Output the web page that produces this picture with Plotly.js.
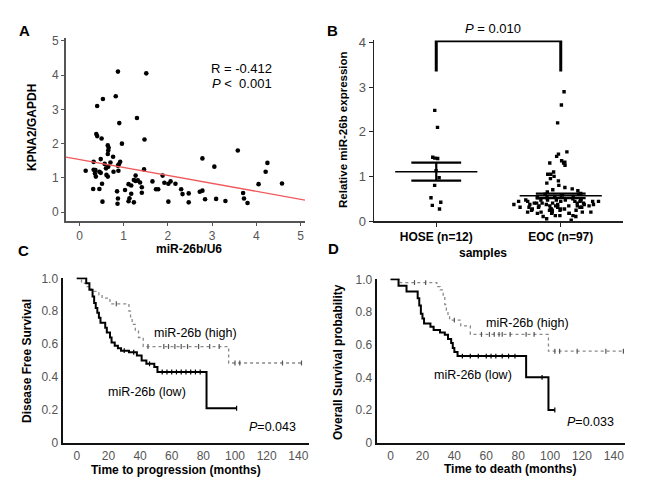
<!DOCTYPE html>
<html><head><meta charset="utf-8">
<script src="https://cdn.plot.ly/plotly-3.0.1.min.js"></script>
<style>html,body{margin:0;padding:0;background:#fff}#chart{width:650px;height:483px}</style>
</head><body><div id="chart"></div>
<script>
// ---------- Panel A: scatter ----------
const mir26bU6 = [0.87,1.51,0.82,0.53,0.40,1.30,0.90,0.38,0.40,0.50,1.47,0.96,0.64,0.66,0.65,0.64,0.76,0.48,2.78,3.58,0.32,0.70,0.92,0.89,0.87,0.57,0.65,0.60,4.25,3.05,1.46,0.14,0.32,0.36,0.45,0.48,0.35,0.77,0.88,0.37,0.61,0.64,1.27,1.88,4.21,1.32,1.27,1.23,1.65,2.06,1.92,2.01,2.17,4.05,4.58,0.51,1.11,1.17,1.37,1.41,0.31,0.45,1.03,0.85,1.78,1.73,2.30,2.33,2.47,1.17,1.41,2.72,2.78,3.70,3.72,0.87,1.13,2.84,3.09,3.30,3.80,0.52,0.86,1.11,1.23,2.01,2.47];
const kpna2Gapdh = [4.1,4.05,3.38,3.3,3.1,2.75,2.6,2.28,2.22,2.15,2.12,2.0,1.95,1.88,1.8,1.7,1.62,1.55,1.57,1.8,1.47,1.45,1.47,1.4,1.36,1.41,1.33,1.28,1.44,1.33,1.25,1.21,1.24,1.23,1.18,1.15,1.13,1.18,1.21,1.04,1.09,1.04,1.07,1.07,1.18,0.93,0.91,0.94,0.9,0.9,0.86,0.83,0.83,0.82,0.84,0.83,0.82,0.78,0.87,0.73,0.68,0.68,0.65,0.61,0.67,0.67,0.67,0.53,0.55,0.54,0.57,0.6,0.63,0.56,0.4,0.4,0.41,0.38,0.39,0.33,0.27,0.31,0.25,0.32,0.29,0.31,0.29];
const fitIntercept = 1.54;
const fitSlope = -0.232;
const fitXRange = [-0.305, 5.1];

// ---------- Panel B: dot plot ----------
const groupLabels = ['HOSE (n=12)', 'EOC (n=97)'];
const hoseValues = [2.48,2.1,1.43,1.41,1.40,1.13,0.97,0.8,0.52,0.42,0.35,0.27];
const eocValues = [2.9,2.6,2.2,1.55,1.5,1.45,1.35,1.32,1.3,1.3,1.25,1.1,1.05,1.05,1.0,0.95,0.9,0.85,0.8,0.75,0.72,0.7,0.68,0.65,0.62,0.6,0.6,0.58,0.55,0.55,0.52,0.52,0.5,0.5,0.47,0.47,0.47,0.47,0.47,0.47,0.44,0.44,0.44,0.44,0.44,0.44,0.44,0.4,0.4,0.4,0.4,0.4,0.4,0.37,0.37,0.37,0.37,0.37,0.37,0.34,0.34,0.34,0.34,0.34,0.34,0.31,0.31,0.31,0.31,0.31,0.31,0.27,0.27,0.27,0.27,0.27,0.24,0.24,0.24,0.24,0.24,0.2,0.2,0.2,0.2,0.2,0.17,0.17,0.17,0.17,0.12,0.12,0.12,0.1,0.1,0.05,0.02];
const bracketTop = 4.04;
const bracketFoot = 3.35;

// ---------- Panel C: disease free survival ----------
const dfsLowTime = [0,6,8,10,11,12,13,14,15,18,19,21,22,24,26,28,33,38,41,44,49,51,82];
const dfsLowSurv = [1,0.97,0.93,0.89,0.85,0.82,0.79,0.76,0.73,0.70,0.67,0.64,0.61,0.59,0.575,0.56,0.55,0.53,0.50,0.48,0.46,0.43,0.21];
const dfsLowEnd = 101;
const dfsLowCensor = [30,36,46,54,57,60,63,66,69,72,75,78,101];
const dfsHighTime = [0,3,6,9,14,16,21,33,34,35,37,39,42,96];
const dfsHighSurv = [1,0.97,0.95,0.92,0.90,0.88,0.845,0.80,0.76,0.72,0.68,0.64,0.585,0.485];
const dfsHighEnd = 142;
const dfsHighCensor = [25,45,55,58,62,66,70,77,84,90,100,103,130,142];

// ---------- Panel D: overall survival ----------
const osLowTime = [0,5,10,17,18,19,20,21,25,27,31,34,36,38,39,40,42,85,99];
const osLowSurv = [1,0.96,0.925,0.884,0.84,0.79,0.76,0.73,0.71,0.69,0.675,0.66,0.635,0.61,0.58,0.555,0.53,0.40,0.20];
const osLowEnd = 103;
const osLowCensor = [45,50,55,60,63,66,70,74,78,95,103];
const osHighTime = [0,6,29,31,33,34,35,36,37,44,50,99];
const osHighSurv = [1,0.98,0.955,0.935,0.895,0.845,0.81,0.78,0.75,0.715,0.663,0.56];
const osHighEnd = 146;
const osHighCensor = [15,22,40,57,62,65,68,70,75,85,90,103,106,117,135,146];

const survTicks = [0,0.2,0.4,0.6,0.8,1.0];
const survTickText = ['0','0.2','0.4','0.6','0.8','1.0'];
const monthTicks = [0,20,40,60,80,100,120,140];

// ---------- helpers ----------
const W = 650, H = 483;
const px = x => x / W;
const py = y => 1 - y / H;
const FONT = 'Liberation Sans, Arial, sans-serif';

function mean(a){ return a.reduce((s,v)=>s+v,0)/a.length; }
function sem(a){ const m=mean(a); const v=a.reduce((s,x)=>s+(x-m)*(x-m),0)/(a.length-1); return Math.sqrt(v/a.length); }
function survAt(times, surv, t){ let s = surv[0]; for (let i=0;i<times.length;i++){ if (times[i] <= t) s = surv[i]; } return s; }

function kmTraces(times, surv, end, censor, xa, ya, style){
  const xs = times.concat([end]);
  const ys = surv.concat([surv[surv.length-1]]);
  return [
    {type:'scatter', mode:'lines', x: xs, y: ys, xaxis: xa, yaxis: ya,
     line: Object.assign({shape:'hv'}, style), hoverinfo:'skip', cliponaxis:false},
    {type:'scatter', mode:'markers', x: censor, y: censor.map(t=>survAt(times,surv,t)), xaxis: xa, yaxis: ya,
     marker:{symbol:'line-ns-open', size:3.5, color: style.markColor, line:{width:1.2, color: style.markColor}}, hoverinfo:'skip', cliponaxis:false}
  ];
}

const traces = [];
// A
traces.push({type:'scatter', mode:'markers', x: mir26bU6, y: kpna2Gapdh, xaxis:'x', yaxis:'y',
  marker:{color:'#000', size:4.6}, hoverinfo:'skip'});
traces.push({type:'scatter', mode:'lines', x: fitXRange, y: fitXRange.map(v=>fitIntercept+fitSlope*v), xaxis:'x', yaxis:'y',
  line:{color:'#f0585a', width:1.3}, hoverinfo:'skip'});

// B
const groups = [hoseValues, eocValues];
const boxWidths = [0.3, 0.85];
const jitters = [0.35, 0.9];
groups.forEach((vals, i) => {
  traces.push({type:'box', y: vals, x0: i, xaxis:'x2', yaxis:'y2', boxpoints:'all', pointpos:0, jitter: jitters[i],
    width: boxWidths[i], fillcolor:'rgba(0,0,0,0)', line:{color:'rgba(0,0,0,0)', width:0}, whiskerwidth:0,
    marker:{symbol:'square', size:3.4, color:'#000'}, hoverinfo:'skip', showlegend:false});
  const m = mean(vals), s = sem(vals);
  traces.push({type:'scatter', mode:'lines', x:[i-0.33, i+0.33], y:[m,m], xaxis:'x2', yaxis:'y2',
    line:{color:'#000', width:1.5}, hoverinfo:'skip'});
  traces.push({type:'scatter', mode:'lines', x:[i-0.2, i+0.2, null, i-0.2, i+0.2, null, i, i], y:[m+s,m+s,null,m-s,m-s,null,m-s,m+s],
    xaxis:'x2', yaxis:'y2', line:{color:'#000', width:2.2}, hoverinfo:'skip'});
});
traces.push({type:'scatter', mode:'lines', x:[0,0,1,1], y:[bracketFoot,bracketTop,bracketTop,bracketFoot], xaxis:'x2', yaxis:'y2',
  line:{color:'#000', width:3}, hoverinfo:'skip', cliponaxis:false});

// C
const lowStyle = {color:'#000', width:2, markColor:'#000'};
const highStyle = {color:'#8a8a8a', width:1.3, dash:'dot', markColor:'#555'};
function lineOnly(s){ const o = Object.assign({}, s); delete o.markColor; return o; }
function km(t,s,e,c,xa,ya,st){ const tr = kmTraces(t,s,e,c,xa,ya,st); tr[0].line = Object.assign({shape:'hv'}, lineOnly(st)); return tr; }
traces.push(...km(dfsHighTime, dfsHighSurv, dfsHighEnd, dfsHighCensor, 'x3', 'y3', highStyle));
traces.push(...km(dfsLowTime, dfsLowSurv, dfsLowEnd, dfsLowCensor, 'x3', 'y3', lowStyle));
// D
traces.push(...km(osHighTime, osHighSurv, osHighEnd, osHighCensor, 'x4', 'y4', highStyle));
traces.push(...km(osLowTime, osLowSurv, osLowEnd, osLowCensor, 'x4', 'y4', lowStyle));

const tickFont = {family: FONT, size: 12, color:'#555'};
function ax(extra){ return Object.assign({showgrid:false, zeroline:false, showline:true, fixedrange:true, tickfont: tickFont}, extra); }

const ann = [];
function txt(text, x, y, size, opts){ ann.push(Object.assign({text, x: px(x), y: py(y), xref:'paper', yref:'paper', showarrow:false,
  xanchor:'center', yanchor:'middle', font:{family:FONT, size, color:'#000'}}, opts||{})); }
function bold(s){ return '<b>'+s+'</b>'; }

// panel letters
txt(bold('A'), 24, 30, 15); txt(bold('B'), 332, 30, 15); txt(bold('C'), 23, 250, 15); txt(bold('D'), 333, 248, 15);
// A
txt('R = -0.412', 242, 69, 13); txt('<i>P</i> <  0.001', 242, 83, 13);
txt(bold('KPNA2/GAPDH'), 32, 128, 12, {textangle:-90});
txt(bold('miR-26b/U6'), 189, 249, 12);
// B
txt('<i>P</i> = 0.010', 493, 28, 13);
txt(bold('Relative miR-26b expression'), 343, 130, 11.5, {textangle:-90});
txt(bold('samples'), 483, 253, 12);
// C
txt('miR-26b (high)', 195, 333, 12.5); txt('miR-26b (low)', 147, 392, 12.5); txt('<i>P</i>=0.043', 272, 427, 12.5);
txt(bold('Disease Free Survival'), 27, 361, 12, {textangle:-90});
txt(bold('Time to progression (months)'), 176, 470, 12);
// D
txt('miR-26b (high)', 527, 323, 12.5); txt('miR-26b (low)', 473, 375, 12.5); txt('<i>P</i>=0.033', 590, 422, 12.5);
txt(bold('Overall Survival probability'), 338, 362, 12, {textangle:-90});
txt(bold('Time to death (months)'), 510, 469, 12);

const layout = {
  width: W, height: H, margin:{l:0,r:0,t:0,b:0}, paper_bgcolor:'#fff', plot_bgcolor:'#fff', showlegend:false,
  font:{family: FONT},
  xaxis: ax({domain:[px(66), px(305)], range:[-0.305, 5.1], anchor:'y', tickvals:[0,1,2,3,4,5], linecolor:'#555', linewidth:2,
    ticks:'outside', ticklen:3, tickcolor:'#555'}),
  yaxis: ax({domain:[py(221), py(38)], range:[-0.254, 5.08], anchor:'x', tickvals:[0,1,2,3,4,5], linecolor:'#555', linewidth:2,
    ticks:'outside', ticklen:3, tickcolor:'#555'}),
  xaxis2: ax({domain:[px(374), px(623)], range:[-0.5, 1.5], anchor:'y2', tickvals:[0,1], ticktext: groupLabels, linecolor:'#222', linewidth:1.5,
    ticks:'outside', ticklen:4, tickcolor:'#222', tickfont:{family:FONT, size:12, color:'#000', weight:'bold'}}),
  yaxis2: ax({domain:[py(221), py(40.4)], range:[0, 4.05], anchor:'x2', tickvals:[0,1,2,3,4], linecolor:'#222', linewidth:1.5,
    ticks:'outside', ticklen:4, tickcolor:'#222', tickfont:{family:FONT, size:13, color:'#555'}}),
  xaxis3: ax({domain:[px(62.5), px(309.4)], range:[-9, 147], anchor:'y3', tickvals: monthTicks, linecolor:'#111', linewidth:2,
    ticks:'', ticklabelstandoff:1}),
  yaxis3: ax({domain:[py(442.7), py(277.5)], range:[0, 1.005], anchor:'x3', tickvals: survTicks, ticktext: survTickText, linecolor:'#111', linewidth:2,
    ticks:''}),
  xaxis4: ax({domain:[px(376.7), px(625)], range:[-8.7, 147], anchor:'y4', tickvals: monthTicks, linecolor:'#111', linewidth:2,
    ticks:'', ticklabelstandoff:1}),
  yaxis4: ax({domain:[py(442.7), py(278.5)], range:[0, 1.005], anchor:'x4', tickvals: survTicks, ticktext: survTickText, linecolor:'#111', linewidth:2,
    ticks:''}),
  annotations: ann
};

Plotly.newPlot('chart', traces, layout, {displayModeBar:false, staticPlot:true});
</script>
</body></html>
